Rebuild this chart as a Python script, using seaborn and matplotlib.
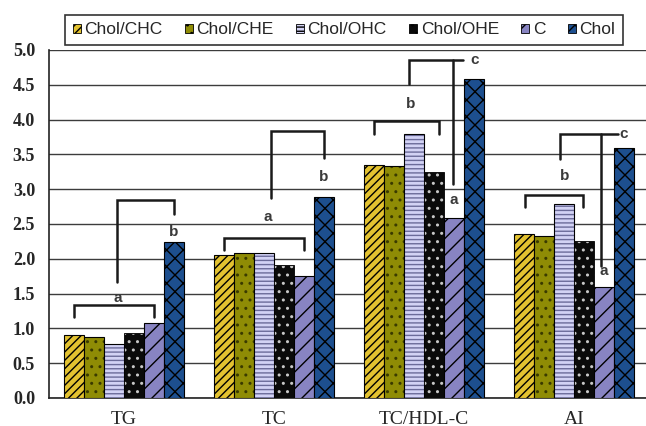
import numpy as np
import pandas as pd
import matplotlib
matplotlib.use("Agg")
import matplotlib.pyplot as plt
import seaborn as sns
from matplotlib.patches import Patch
from matplotlib.colors import to_rgba

# data
categories = ["TG", "TC", "TC/HDL-C", "AI"]
groups = ["Chol/CHC", "Chol/CHE", "Chol/OHC", "Chol/OHE", "C", "Chol"]

chol_chc = [0.90, 2.06, 3.35, 2.36]
chol_che = [0.88, 2.09, 3.33, 2.33]
chol_ohc = [0.77, 2.09, 3.79, 2.79]
chol_ohe = [0.93, 1.91, 3.25, 2.26]
c_vals = [1.08, 1.75, 2.59, 1.60]
chol_vals = [2.24, 2.89, 4.59, 3.59]

all_vals = [chol_chc, chol_che, chol_ohc, chol_ohe, c_vals, chol_vals]
df = pd.DataFrame({
    "param": categories * len(groups),
    "group": np.repeat(groups, len(categories)),
    "value": np.concatenate(all_vals),
})

faces = ["#e3c230", "#8f8c05", "#d2d2f5", "#0a0a0a", "#8884c2", "#1d4f8f"]
hatches = ["////", "..", "----", "..", "//", "xx"]
hatch_cols = ["black", "#3a3a00", "#6b6b9a", "#c8c8c8", "black", "black"]

sns.set_style("white")
plt.rcParams["hatch.linewidth"] = 1.0

fig = plt.figure(figsize=(6.46, 4.26), dpi=100)
ax = fig.add_axes([49 / 646, 28 / 426, 600 / 646, 348 / 426])

sns.barplot(data=df, x="param", y="value", hue="group", order=categories,
            hue_order=groups, palette=faces, width=0.8, gap=0,
            saturation=1, legend=False, ax=ax, zorder=3)

def set_hatch_color(p, col):
    p._hatch_color = to_rgba(col)

for j, cont in enumerate(ax.containers):
    for p in cont:
        p.set_hatch(hatches[j])
        p.set_edgecolor("black")
        p.set_linewidth(0.6 if j == 3 else 0.8)
        set_hatch_color(p, hatch_cols[j])

ax.set_xlim(-0.5, 3.5)
ax.set_ylim(0, 5)
ax.set_yticks(np.arange(0, 5.01, 0.5))
ax.set_yticklabels([f"{v:.1f}" for v in np.arange(0, 5.01, 0.5)],
                   family="Liberation Serif", fontweight="bold", fontsize=13)
ax.set_xticks(range(len(categories)))
ax.set_xticklabels(categories, family="Liberation Serif", fontsize=14)
ax.set_xticks([0.5, 1.5, 2.5], minor=True)
ax.tick_params(axis="x", which="major", length=0, pad=9)
ax.tick_params(axis="x", which="minor", length=7, direction="inout", width=1)
ax.tick_params(axis="y", length=10, direction="inout", width=1, pad=5)
ax.set_xlabel("")
ax.set_ylabel("")
ax.yaxis.grid(True, color="#3c3c3c", linewidth=1.0, zorder=0)
ax.set_axisbelow(True)
for s in ["top", "right"]:
    ax.spines[s].set_visible(False)
for s in ["left", "bottom"]:
    ax.spines[s].set_color("#222222")
    ax.spines[s].set_linewidth(1.2)

# significance brackets
offs = (np.arange(len(groups)) - 2.5) * (0.8 / len(groups))
lk = dict(color="#1a1a1a", lw=1.8, zorder=4, solid_joinstyle="miter")
tk = dict(family="Liberation Sans", fontweight="bold", fontsize=11,
          color="#3a3a3a", ha="center", va="center", zorder=5)

def bracket(x0, x1, y, drop):
    ax.plot([x0, x0, x1, x1], [y - drop, y, y, y - drop], **lk)

# TG
bracket(0 + offs[0], 0 + offs[4], 1.33, 0.17)
ax.text(-0.04, 1.44, "a", **tk)
ax.plot([-0.05, -0.05, offs[5], offs[5]], [1.67, 2.84, 2.84, 2.65], **lk)
ax.text(offs[5], 2.39, "b", **tk)
# TC
bracket(1 + offs[0], 1 + offs[4], 2.30, 0.17)
ax.text(0.96, 2.60, "a", **tk)
ax.plot([0.98, 0.98, 1 + offs[5], 1 + offs[5]], [2.87, 3.84, 3.84, 3.45], **lk)
ax.text(1 + offs[5], 3.17, "b", **tk)
# TC/HDL-C
bracket(2 + offs[0], 2.10, 3.98, 0.18)
ax.text(1.91, 4.23, "b", **tk)
ax.plot([1.90, 1.90, 2.26], [4.51, 4.86, 4.86], **lk)
ax.plot([2.19, 2.19], [4.86, 3.08], **lk)
ax.text(2.335, 4.85, "c", **tk)
ax.text(2.20, 2.84, "a", **tk)
# AI
bracket(2.673, 3.062, 2.91, 0.16)
ax.text(2.935, 3.19, "b", **tk)
ax.plot([2.907, 2.907, 3.29], [3.44, 3.79, 3.79], **lk)
ax.plot([3.18, 3.18], [3.79, 1.89], **lk)
ax.text(3.33, 3.79, "c", **tk)
ax.text(3.20, 1.83, "a", **tk)

handles = []
for j, g in enumerate(groups):
    h = Patch(facecolor=faces[j], edgecolor="black", hatch=hatches[j], lw=0.6, label=g)
    handles.append(h)
leg = fig.legend(handles=handles, ncol=6, loc="center",
                 bbox_to_anchor=(344 / 646, 1 - 30 / 426),
                 prop={"family": "Liberation Sans", "size": 12.5},
                 frameon=True, fancybox=False, edgecolor="black",
                 handlelength=0.45, handleheight=0.45, handletextpad=0.2,
                 columnspacing=1.3, borderpad=0.45, borderaxespad=0)
leg.get_frame().set_linewidth(1.2)
for h in leg.legend_handles:
    h._hatch_color = to_rgba("black")

fig.savefig("out.png", dpi=100)
